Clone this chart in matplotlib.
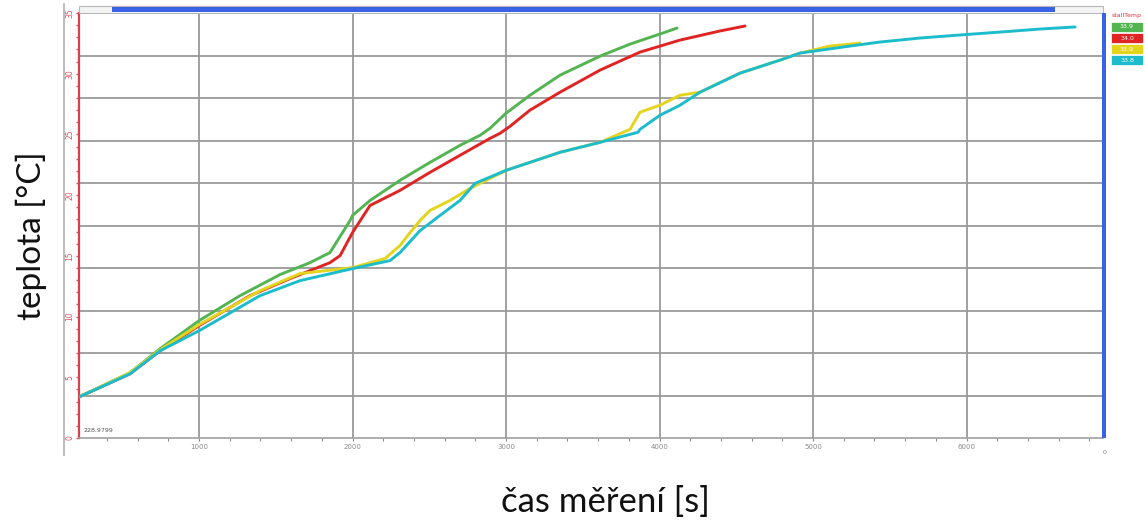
import matplotlib
matplotlib.use("Agg")
import matplotlib.pyplot as plt
from matplotlib.patches import Rectangle
from matplotlib.lines import Line2D
from matplotlib.ticker import MultipleLocator, FixedLocator

# ---- measured data: time [s] and temperature for four sensors ----
green_t = [218, 550, 746, 1000, 1267, 1528, 1723, 1853, 1984, 2000, 2114, 2309, 2505,
           2700, 2831, 2896, 3000, 3156, 3352, 3613, 3808, 4003, 4114]
green_v = [3.38, 5.37, 7.35, 9.66, 11.72, 13.46, 14.44, 15.27, 17.91, 18.33, 19.56, 21.22, 22.70,
           24.10, 24.93, 25.51, 26.75, 28.23, 29.88, 31.45, 32.44, 33.27, 33.76]

red_t = [218, 550, 746, 1000, 1332, 1593, 1853, 1919, 2000, 2114, 2309, 2505,
         2700, 2896, 2961, 3026, 3156, 3352, 3613, 3873, 4134, 4394, 4557]
red_v = [3.38, 5.28, 7.18, 9.25, 11.72, 13.13, 14.44, 15.02, 16.92, 19.15, 20.39, 21.88,
         23.28, 24.68, 25.09, 25.67, 27.00, 28.48, 30.30, 31.78, 32.77, 33.52, 33.93]

yellow_t = [218, 550, 746, 1000, 1397, 1658, 2000, 2212, 2309, 2375, 2440, 2505,
            2635, 2766, 3000, 3352, 3613, 3808, 3873, 4003, 4134, 4264, 4525,
            4785, 4916, 5111, 5307]
yellow_v = [3.38, 5.37, 7.26, 9.33, 12.13, 13.54, 14.03, 14.78, 15.85, 16.92, 17.91, 18.74,
            19.56, 20.56, 22.04, 23.53, 24.35, 25.42, 26.83, 27.41, 28.23, 28.48, 30.05,
            31.12, 31.70, 32.28, 32.52]

cyan_t = [218, 550, 746, 1000, 1397, 1658, 2000, 2244, 2309, 2440, 2570, 2700,
          2798, 3000, 3352, 3613, 3860, 3873, 4003, 4134, 4264, 4525, 4785, 4916,
          5242, 5437, 5698, 5958, 6219, 6479, 6707]
cyan_v = [3.38, 5.28, 7.18, 8.83, 11.72, 12.96, 13.95, 14.61, 15.27, 17.08, 18.33, 19.56,
          20.97, 22.04, 23.53, 24.35, 25.18, 25.42, 26.58, 27.41, 28.48, 30.05, 31.12, 31.70,
          32.28, 32.61, 32.94, 33.19, 33.43, 33.68, 33.85]

series_names = ["33.9", "34.0", "33.9", "33.8"]
series_colors = ["#52b552", "#e02424", "#e3d41c", "#1cbccc"]

x_ticks = [1000, 2000, 3000, 4000, 5000, 6000]
y_ticks = [0, 5, 10, 15, 20, 25, 30, 35]

W, H = 1145, 523
fig = plt.figure(figsize=(W / 100, H / 100), dpi=100)
fig.patch.set_facecolor("white")


def fx(px):
    return px / W


def fy(py):
    return 1 - py / H


ax = fig.add_axes([fx(79), fy(438), fx(1103) - fx(79), fy(13) - fy(438)])
ax.set_xlim(218, 6889)
ax.set_ylim(0, 35)

for t, v, c in zip([green_t, red_t, yellow_t, cyan_t],
                   [green_v, red_v, yellow_v, cyan_v], series_colors):
    ax.plot(t, v, color=c, lw=2.1, solid_capstyle="round", solid_joinstyle="round", zorder=3)

# grid: vertical at the labelled seconds, horizontal in ten equal bands
for xv in x_ticks:
    ax.axvline(xv, color="#9a9a9a", lw=1.3, zorder=1)
for k in range(1, 10):
    ax.axhline(35 * k / 10, color="#9a9a9a", lw=1.3, zorder=1)

ax.xaxis.set_major_locator(FixedLocator(x_ticks))
ax.xaxis.set_minor_locator(MultipleLocator(200))
ax.yaxis.set_major_locator(FixedLocator(y_ticks))
ax.yaxis.set_minor_locator(MultipleLocator(1))

ax.tick_params(axis="x", which="both", colors="#8a8a8a", labelsize=5, length=2, width=0.8,
               direction="out", pad=2)
ax.tick_params(axis="y", which="both", colors="#e05060", labelsize=5.5, length=2.5, width=1,
               direction="out", pad=1)
for lab in ax.get_yticklabels():
    lab.set_rotation(90)
    lab.set_va("center")

for s in ["top", "right"]:
    ax.spines[s].set_visible(False)
ax.spines["left"].set_color("#d8404c")
ax.spines["left"].set_linewidth(1.6)
ax.spines["bottom"].set_color("#a0a0a0")
ax.spines["bottom"].set_linewidth(1.2)

ax.text(0.004, 0.012, "228.9799", transform=ax.transAxes, fontsize=4.5,
        color="#555555", ha="left", va="bottom")

# window chrome: outer left rule, top scrollbar, right blue bar
fig.add_artist(Line2D([fx(64), fx(64)], [fy(4), fy(455)], color="#b0b0b0", lw=1.2))
fig.add_artist(Rectangle((fx(79), fy(13)), fx(1103) - fx(79), fy(6) - fy(13),
                         facecolor="#f4f4f4", edgecolor="#b8b8b8", lw=0.8))
fig.add_artist(Rectangle((fx(112), fy(12)), fx(1055) - fx(112), fy(7) - fy(12),
                         facecolor="#3a62e6", edgecolor="none"))
fig.add_artist(Rectangle((fx(1102), fy(438)), fx(1106) - fx(1102), fy(13) - fy(438),
                         facecolor="#3a62e6", edgecolor="none"))
fig.text(fx(1105), fy(452), "0", fontsize=4.5, color="#777777", ha="center", va="center")

# legend column
fig.text(fx(1112), fy(16), "stallTemp", fontsize=4.5, color="#e03040", ha="left", va="center")
for i, (name, col) in enumerate(zip(series_names, series_colors)):
    top = 22 + i * 11
    fig.add_artist(Rectangle((fx(1111), fy(top + 10)), fx(1143) - fx(1111), fy(top) - fy(top + 10),
                             facecolor=col, edgecolor="white", lw=0.5))
    fig.text(fx(1127), fy(top + 5), name, fontsize=4.5, color="white", ha="center", va="center")

fig.text(fx(31), fy(236), "teplota [°C]", rotation=90, fontsize=24, family="Lato",
         ha="center", va="center", color="#111111")
fig.text(fx(605), fy(502), "čas měření [s]", fontsize=25, family="Lato",
         ha="center", va="center", color="#111111")

fig.savefig("out.png", dpi=100)
